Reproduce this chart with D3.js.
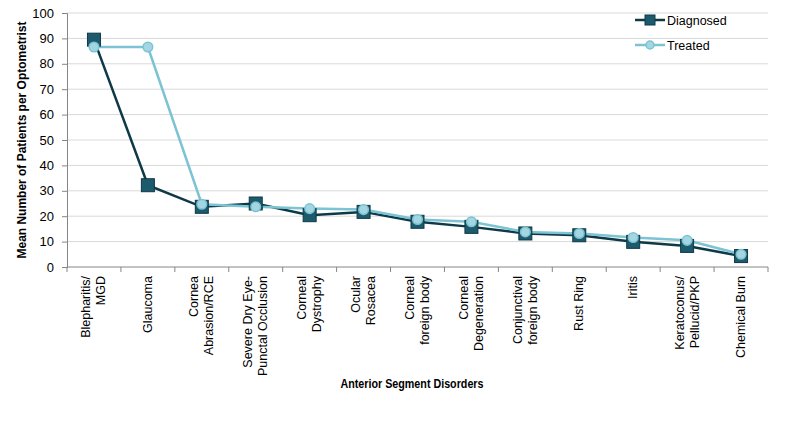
<!DOCTYPE html>
<html>
<head>
<meta charset="utf-8">
<script src="https://cdn.jsdelivr.net/npm/d3@7"></script>
<style>
  body { margin: 0; background: #fff; }
  svg { display: block; }
  text { font-family: "Liberation Sans", Arial, sans-serif; fill: #000; }
</style>
</head>
<body>
<svg id="chart" width="799" height="428"></svg>
<script>
const categories = [
  ["Blepharitis/", "MGD"],
  ["Glaucoma"],
  ["Cornea", "Abrasion/RCE"],
  ["Severe Dry Eye-", "Punctal Occlusion"],
  ["Corneal", "Dystrophy"],
  ["Ocular", "Rosacea"],
  ["Corneal", "foreign body"],
  ["Corneal", "Degeneration"],
  ["Conjunctival", "foreign body"],
  ["Rust Ring"],
  ["Iritis"],
  ["Keratoconus/", "Pellucid/PKP"],
  ["Chemical Burn"]
];
const diagnosed = [89.5, 32.2, 23.7, 25.0, 20.4, 21.7, 17.8, 15.8, 13.2, 12.5, 9.9, 8.3, 4.3];
const treated = [86.6, 86.6, 24.7, 23.7, 23.0, 22.6, 18.7, 17.8, 13.8, 13.2, 11.6, 10.5, 5.0];
const yTicks = [0, 10, 20, 30, 40, 50, 60, 70, 80, 90, 100];

const svg = d3.select("#chart");
const margin = {top: 13, left: 67, right: 31, bottom: 161};
const width = 799 - margin.left - margin.right,
      height = 428 - margin.top - margin.bottom;

const g = svg.append("g").attr("transform", `translate(${margin.left},${margin.top})`);

const x = d3.scaleBand().domain(d3.range(categories.length)).range([0, width]);
const y = d3.scaleLinear().domain([0, 100]).range([height, 0]);

// gridlines
g.append("g")
  .selectAll("line")
  .data(yTicks.filter(d => d > 0))
  .enter()
  .append("line")
  .attr("x1", 0).attr("x2", width)
  .attr("y1", d => y(d)).attr("y2", d => y(d))
  .attr("stroke", "#d9d9d9")
  .attr("stroke-width", 1);

// y axis
const yAxis = g.append("g")
  .call(d3.axisLeft(y).tickValues(yTicks).tickSize(5).tickPadding(8));
yAxis.select(".domain").attr("stroke", "#868686");
yAxis.selectAll(".tick line").attr("stroke", "#868686");
yAxis.selectAll("text").attr("font-size", 13).attr("font-family", "Liberation Sans, Arial, sans-serif").attr("fill", "#222");

// x axis: ticks at band boundaries
const xAxis = g.append("g").attr("transform", `translate(0,${height})`);
xAxis.append("line").attr("x1", 0).attr("x2", width).attr("stroke", "#868686");
xAxis.selectAll(".xt")
  .data(d3.range(categories.length + 1))
  .enter()
  .append("line")
  .attr("x1", d => d === categories.length ? width : x(d))
  .attr("x2", d => d === categories.length ? width : x(d))
  .attr("y1", 0).attr("y2", 5)
  .attr("stroke", "#868686");

// x tick labels, rotated
const lineGap = 15;
xAxis.selectAll(".lbl")
  .data(categories)
  .enter()
  .append("g")
  .attr("class", "lbl")
  .each(function(lines, i) {
    const cx = x(i) + x.bandwidth() / 2;
    const n = lines.length;
    lines.forEach((t, j) => {
      const off = (j - (n - 1) / 2) * lineGap;
      d3.select(this).append("text")
        .attr("transform", `translate(${cx + off + 4},9) rotate(-90)`)
        .attr("text-anchor", "end")
        .attr("font-size", 12.5)
        .attr("fill", "#222")
        .text(t);
    });
  });

// lines
const lineGen = d3.line().x((d, i) => x(i) + x.bandwidth() / 2).y(d => y(d));

g.append("path").datum(diagnosed)
  .attr("d", lineGen).attr("fill", "none")
  .attr("stroke", "#0e3a48").attr("stroke-width", 2.5);

g.append("path").datum(treated)
  .attr("d", lineGen).attr("fill", "none")
  .attr("stroke", "#7cc3d3").attr("stroke-width", 2.5);

const sq = 13;
g.append("g").selectAll("rect")
  .data(diagnosed)
  .enter()
  .append("rect")
  .attr("x", (d, i) => x(i) + x.bandwidth() / 2 - sq / 2)
  .attr("y", d => y(d) - sq / 2)
  .attr("width", sq).attr("height", sq)
  .attr("fill", "#1c5a6c").attr("stroke", "#0e3a48").attr("stroke-width", 1);

g.append("g").selectAll("circle")
  .data(treated)
  .enter()
  .append("circle")
  .attr("cx", (d, i) => x(i) + x.bandwidth() / 2)
  .attr("cy", d => y(d))
  .attr("r", 4.8)
  .attr("fill", "#a3d6e1").attr("stroke", "#7cc3d3").attr("stroke-width", 1.5);

// axis titles
svg.append("text")
  .attr("transform", `translate(26,${margin.top + height / 2}) rotate(-90)`)
  .attr("text-anchor", "middle")
  .attr("font-size", 12)
  .attr("font-weight", "bold")
  .attr("textLength", 237)
  .attr("lengthAdjust", "spacingAndGlyphs")
  .text("Mean Number of Patients per Optometrist");

svg.append("text")
  .attr("x", 412).attr("y", 388)
  .attr("text-anchor", "middle")
  .attr("font-size", 12.5)
  .attr("font-weight", "bold")
  .attr("textLength", 143)
  .attr("lengthAdjust", "spacingAndGlyphs")
  .text("Anterior Segment Disorders");

// legend
const legend = svg.append("g");
const legendItems = [
  {name: "Diagnosed", y: 20, color: "#0e3a48", fill: "#1c5a6c", shape: "rect"},
  {name: "Treated", y: 45, color: "#7cc3d3", fill: "#a3d6e1", shape: "circle"}
];
legendItems.forEach(it => {
  legend.append("line")
    .attr("x1", 635).attr("x2", 665)
    .attr("y1", it.y).attr("y2", it.y)
    .attr("stroke", it.color).attr("stroke-width", 2.5);
  if (it.shape === "rect") {
    legend.append("rect").attr("x", 650 - 5).attr("y", it.y - 5)
      .attr("width", 10).attr("height", 10)
      .attr("fill", it.fill).attr("stroke", it.color);
  } else {
    legend.append("circle").attr("cx", 650).attr("cy", it.y).attr("r", 4)
      .attr("fill", it.fill).attr("stroke", it.color).attr("stroke-width", 1.5);
  }
  legend.append("text")
    .attr("x", 667).attr("y", it.y + 4.5)
    .attr("font-size", 12.5)
    .attr("fill", "#222")
    .text(it.name);
});
</script>
</body>
</html>
